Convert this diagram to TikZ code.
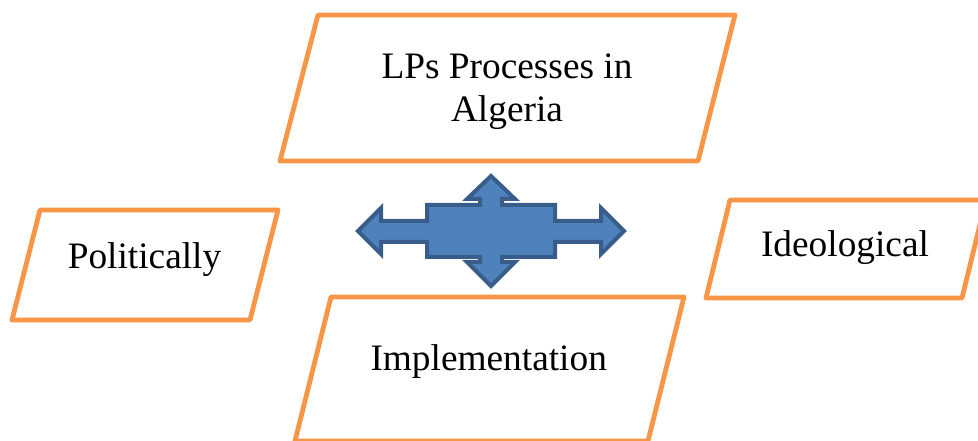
\documentclass[tikz,border=0pt]{standalone}
\usepackage{fontspec}
\setmainfont{Liberation Serif}
\definecolor{boxorange}{RGB}{247,150,70}
\definecolor{arrowfill}{RGB}{79,129,189}
\definecolor{arrowline}{RGB}{56,93,138}
\begin{document}
\begin{tikzpicture}[x=0.75pt,y=-0.75pt,
  parabox/.style={draw=boxorange,line width=3.6pt,line join=round,fill=white},
  label/.style={font=\fontsize{28}{32.5}\selectfont,align=center,anchor=base,inner sep=0pt},
  quadarrow/.style={draw=arrowline,fill=arrowfill,line width=3pt,line join=miter}]
\useasboundingbox (0,0) rectangle (978,441);
\clip (0,0) rectangle (978,441);
% parallelograms
\draw[parabox] (318,15) -- (735,15) -- (698,161) -- (280,161) -- cycle;
\draw[parabox] (40,210) -- (278,210) -- (250,320) -- (12,320) -- cycle;
\draw[parabox] (730,200) -- (986,200) -- (962,298) -- (706,298) -- cycle;
\draw[parabox] (331,297) -- (684,297) -- (648,441) -- (295,441) -- cycle;
% texts
\node[label] (top) at (507,121.7) {LPs Processes in\\Algeria};
\node[label] (pol) at (144.5,268.3) {Politically};
\node[label] (ideo) at (845,256.7) {Ideological};
\node[label] (impl) at (488.7,371) {Implementation};
% quad arrow
\draw[quadarrow] (491,176) -- (515,199) -- (502,199) -- (502,205) -- (555,205)
  -- (555,221) -- (601,221) -- (601,208) -- (624,231) -- (601,254) -- (601,242)
  -- (555,242) -- (555,257) -- (502,257) -- (502,262) -- (515,262) -- (491,286)
  -- (467,262) -- (480,262) -- (480,257) -- (427,257) -- (427,242) -- (381,242)
  -- (381,254) -- (358,231) -- (381,208) -- (381,221) -- (427,221) -- (427,205)
  -- (480,205) -- (480,199) -- (467,199) -- cycle;
\coordinate (qa) at (491,231);
\end{tikzpicture}
\end{document}
